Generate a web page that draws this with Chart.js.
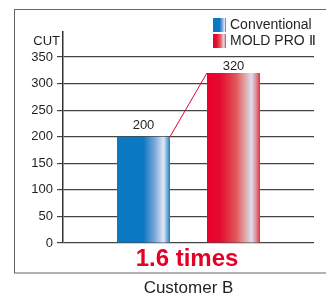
<!DOCTYPE html>
<html>
<head>
<meta charset="utf-8">
<script src="https://cdn.jsdelivr.net/npm/chart.js@4"></script>
<style>
  html, body { margin: 0; padding: 0; background: #fff; }
  canvas { display: block; }
</style>
</head>
<body>
<canvas id="chart" width="326" height="295"></canvas>
<script>
const categories = ["Customer B"];
const seriesNames = ["Conventional", "MOLD PRO \u2161"];
const conventionalValues = [200];
const moldProValues = [320];
const yTicks = [0, 50, 100, 150, 200, 250, 300, 350];
const yTitle = "CUT";

const FONT = "'Liberation Sans', Arial, sans-serif";
const TEXT = "#231f20";

const gradientStops = [
  [
    [0, "#0a78c2"],
    [0.5, "#0a78c2"],
    [0.72, "#80a9dc"],
    [0.88, "#e0e8f5"],
    [1, "#1a7cc4"],
  ],
  [
    [0, "#e8002d"],
    [0.25, "#e60a30"],
    [0.55, "#e05858"],
    [0.72, "#e3a5a8"],
    [0.84, "#d8def0"],
    [0.93, "#e08890"],
    [1, "#e0303f"],
  ],
];

function makeGradient(ctx, left, right, stops) {
  const g = ctx.createLinearGradient(left, 0, right, 0);
  stops.forEach(([pos, color]) => g.addColorStop(pos, color));
  return g;
}

const decorPlugin = {
  id: "decor",
  beforeDraw(chart) {
    const ctx = chart.ctx;
    ctx.save();
    ctx.strokeStyle = "#666";
    ctx.lineWidth = 1;
    ctx.strokeRect(14.5, 9.5, 340, 263.5);
    ctx.restore();
  },
  beforeDatasetsDraw(chart) {
    const ctx = chart.ctx;
    chart.data.datasets.forEach((ds, i) => {
      const meta = chart.getDatasetMeta(i);
      meta.data.forEach((el) => {
        const g = makeGradient(ctx, el.x - el.width / 2, el.x + el.width / 2, gradientStops[i]);
        el.options = Object.assign({}, el.options, { backgroundColor: g });
      });
    });
  },
  afterDatasetsDraw(chart) {
    const ctx = chart.ctx;
    const a = chart.getDatasetMeta(0).data[0];
    const b = chart.getDatasetMeta(1).data[0];
    ctx.save();
    // connector line
    ctx.strokeStyle = "#e8002d";
    ctx.lineWidth = 1;
    ctx.beginPath();
    ctx.moveTo(a.x + a.width / 2, a.y);
    ctx.lineTo(b.x - b.width / 2, b.y);
    ctx.stroke();

    // value labels
    ctx.fillStyle = TEXT;
    ctx.font = "13px " + FONT;
    ctx.textAlign = "center";
    ctx.textBaseline = "middle";
    const gaps = [11, 7];
    [a, b].forEach((el, i) => {
      ctx.fillText(String(chart.data.datasets[i].data[0]), el.x, el.y - gaps[i]);
    });

    // ratio
    const ratio = (moldProValues[0] / conventionalValues[0]).toFixed(1);
    ctx.fillStyle = "#e60028";
    ctx.font = "bold 24px " + FONT;
    ctx.fillText(ratio + " times", 187, 259);

    // y title
    ctx.fillStyle = TEXT;
    ctx.font = "13px " + FONT;
    ctx.textAlign = "right";
    ctx.fillText(yTitle, 60, 41);

    // legend
    ctx.font = "14px " + FONT;
    ctx.textAlign = "left";
    seriesNames.forEach((name, i) => {
      const top = 18 + i * 16;
      ctx.fillStyle = makeGradient(ctx, 213, 226, gradientStops[i]);
      ctx.fillRect(213, top, 13, 14);
      ctx.fillStyle = TEXT;
      ctx.fillText(name, 230, top + 7.5);
    });
    ctx.restore();
  },
};

new Chart(document.getElementById("chart"), {
  type: "bar",
  data: {
    labels: categories,
    datasets: [
      { label: seriesNames[0], data: conventionalValues, backgroundColor: "#0a78c2" },
      { label: seriesNames[1], data: moldProValues, backgroundColor: "#e8002d" },
    ],
  },
  options: {
    responsive: false,
    animation: false,
    events: [],
    categoryPercentage: 0.717,
    barPercentage: 0.589,
    layout: { padding: { left: 0, top: 32, right: 12, bottom: 0 } },
    plugins: {
      legend: { display: false },
      tooltip: { enabled: false },
    },
    scales: {
      x: {
        grid: { display: false },
        border: { display: false },
        ticks: { color: TEXT, font: { family: FONT, size: 17 }, padding: 27 },
        afterFit(scale) { scale.height = 52; },
      },
      y: {
        min: 0,
        max: 397,
        afterBuildTicks(scale) { scale.ticks = yTicks.map((v) => ({ value: v })); },
        afterFit(scale) { scale.width = 63; },
        grid: { color: "#444", lineWidth: 1.2, tickLength: 6 },
        border: { color: "#333", width: 1.5 },
        ticks: { color: TEXT, font: { family: FONT, size: 13 }, padding: 4 },
      },
    },
  },
  plugins: [decorPlugin],
});
</script>
</body>
</html>
